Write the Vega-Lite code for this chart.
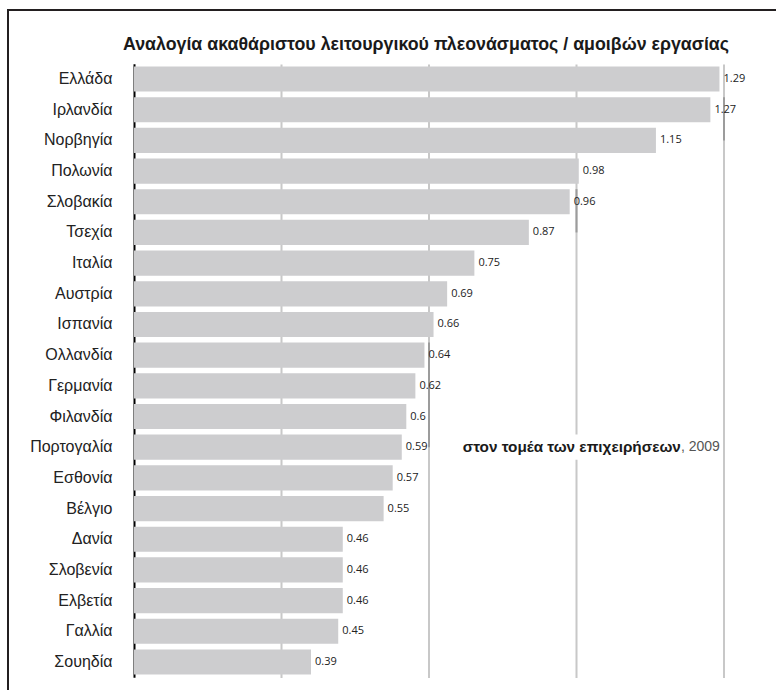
{
  "$schema": "https://vega.github.io/schema/vega-lite/v6.json",
  "autosize": {"type": "none"},
  "padding": {"left": 8, "top": 10, "right": 0, "bottom": 0},
  "width": 770,
  "height": 683,
  "background": "white",
  "config": {
    "view": {"stroke": "#231f20", "strokeWidth": 2},
    "font": "Liberation Sans"
  },
  "title": {
    "text": "Αναλογία ακαθάριστου λειτουργικού πλεονάσματος / αμοιβών εργασίας",
    "anchor": "start",
    "font": "Liberation Sans",
    "fontSize": 17.8,
    "fontWeight": "bold",
    "color": "#1a1a1a",
    "offset": 0,
    "baseline": "alphabetic",
    "dx": 115,
    "dy": 58
  },
  "datasets": {
    "bars": [
      {"country": "Ελλάδα", "value": 1.29, "label": "1.29"},
      {"country": "Ιρλανδία", "value": 1.27, "label": "1.27"},
      {"country": "Νορβηγία", "value": 1.15, "label": "1.15"},
      {"country": "Πολωνία", "value": 0.98, "label": "0.98"},
      {"country": "Σλοβακία", "value": 0.96, "label": "0.96"},
      {"country": "Τσεχία", "value": 0.87, "label": "0.87"},
      {"country": "Ιταλία", "value": 0.75, "label": "0.75"},
      {"country": "Αυστρία", "value": 0.69, "label": "0.69"},
      {"country": "Ισπανία", "value": 0.66, "label": "0.66"},
      {"country": "Ολλανδία", "value": 0.64, "label": "0.64"},
      {"country": "Γερμανία", "value": 0.62, "label": "0.62"},
      {"country": "Φιλανδία", "value": 0.6, "label": "0.6"},
      {"country": "Πορτογαλία", "value": 0.59, "label": "0.59"},
      {"country": "Εσθονία", "value": 0.57, "label": "0.57"},
      {"country": "Βέλγιο", "value": 0.55, "label": "0.55"},
      {"country": "Δανία", "value": 0.46, "label": "0.46"},
      {"country": "Σλοβενία", "value": 0.46, "label": "0.46"},
      {"country": "Ελβετία", "value": 0.46, "label": "0.46"},
      {"country": "Γαλλία", "value": 0.45, "label": "0.45"},
      {"country": "Σουηδία", "value": 0.39, "label": "0.39"}
    ],
    "grid": [
      {"x": 0.325, "from": "Ελλάδα", "to": "Σουηδία"},
      {"x": 0.65, "from": "Ελλάδα", "to": "Σουηδία"},
      {"x": 0.975, "from": "Ελλάδα", "to": "Σουηδία"},
      {"x": 1.3, "from": "Ελλάδα", "to": "Σουηδία"}
    ],
    "segments": [
      {"x": 1.3, "from": "Ιρλανδία", "to": "Νορβηγία"},
      {"x": 0.975, "from": "Σλοβακία", "to": "Τσεχία"},
      {"x": 0.65, "from": "Ολλανδία", "to": "Πορτογαλία"}
    ],
    "note": [
      {"country": "Πορτογαλία", "x": 0.7, "x2": 1.26, "pos": 1.205, "bold": "στον τομέα των επιχειρήσεων", "rest": ", 2009"}
    ]
  },
  "layer": [
    {
      "data": {"name": "grid"},
      "mark": {"type": "rule", "color": "#c8c8c8", "strokeWidth": 2, "yOffset": -2, "y2Offset": 16},
      "encoding": {
        "x": {"field": "x", "type": "quantitative"},
        "y": {"field": "from", "type": "nominal", "sort": null, "bandPosition": 0},
        "y2": {"field": "to"}
      }
    },
    {
      "data": {"name": "bars"},
      "mark": {"type": "bar", "color": "#cdcdcf"},
      "encoding": {
        "y": {
          "field": "country",
          "type": "nominal",
          "sort": null,
          "scale": {
            "domain": ["Ελλάδα", "Ιρλανδία", "Νορβηγία", "Πολωνία", "Σλοβακία", "Τσεχία", "Ιταλία", "Αυστρία", "Ισπανία", "Ολλανδία", "Γερμανία", "Φιλανδία", "Πορτογαλία", "Εσθονία", "Βέλγιο", "Δανία", "Σλοβενία", "Ελβετία", "Γαλλία", "Σουηδία"],
            "range": [53.7, 667.3],
            "paddingInner": 0.18,
            "paddingOuter": 0.09
          },
          "axis": {
            "title": null,
            "orient": "left",
            "offset": -126,
            "domainColor": "#000000",
            "domainWidth": 2,
            "ticks": false,
            "labelPadding": 22,
            "labelFont": "Liberation Sans",
            "labelFontSize": 16,
            "labelColor": "#222222"
          }
        },
        "x": {
          "field": "value",
          "type": "quantitative",
          "scale": {"domain": [0, 1.3], "range": [126, 716], "nice": false, "zero": true},
          "axis": {
            "title": null,
            "orient": "top",
            "grid": false,
            "labels": false,
            "ticks": false,
            "domain": false
          }
        }
      }
    },
    {
      "data": {"name": "segments"},
      "mark": {"type": "rule", "color": "#9c9c9c", "strokeWidth": 2},
      "encoding": {
        "x": {"field": "x", "type": "quantitative"},
        "y": {"field": "from", "type": "nominal", "sort": null, "bandPosition": 0},
        "y2": {"field": "to"}
      }
    },
    {
      "data": {"name": "bars"},
      "mark": {"type": "text", "align": "left", "baseline": "middle", "dx": 4, "font": "Open Sans", "fontSize": 11, "color": "#222222"},
      "encoding": {
        "x": {"field": "value", "type": "quantitative"},
        "y": {"field": "country", "type": "nominal", "sort": null},
        "text": {"field": "label", "type": "nominal"}
      }
    },
    {
      "data": {"name": "note"},
      "mark": {"type": "bar", "color": "white"},
      "encoding": {
        "x": {"field": "x", "type": "quantitative"},
        "x2": {"field": "x2"},
        "y": {"field": "country", "type": "nominal", "sort": null}
      }
    },
    {
      "data": {"name": "note"},
      "mark": {"type": "text", "align": "right", "baseline": "middle", "font": "Liberation Sans", "fontSize": 15.3, "fontWeight": "bold", "color": "#1a1a1a"},
      "encoding": {
        "x": {"field": "pos", "type": "quantitative"},
        "y": {"field": "country", "type": "nominal", "sort": null},
        "text": {"field": "bold", "type": "nominal"}
      }
    },
    {
      "data": {"name": "note"},
      "mark": {"type": "text", "align": "left", "baseline": "middle", "font": "Liberation Sans", "fontSize": 14, "color": "#555555"},
      "encoding": {
        "x": {"field": "pos", "type": "quantitative"},
        "y": {"field": "country", "type": "nominal", "sort": null},
        "text": {"field": "rest", "type": "nominal"}
      }
    }
  ]
}
